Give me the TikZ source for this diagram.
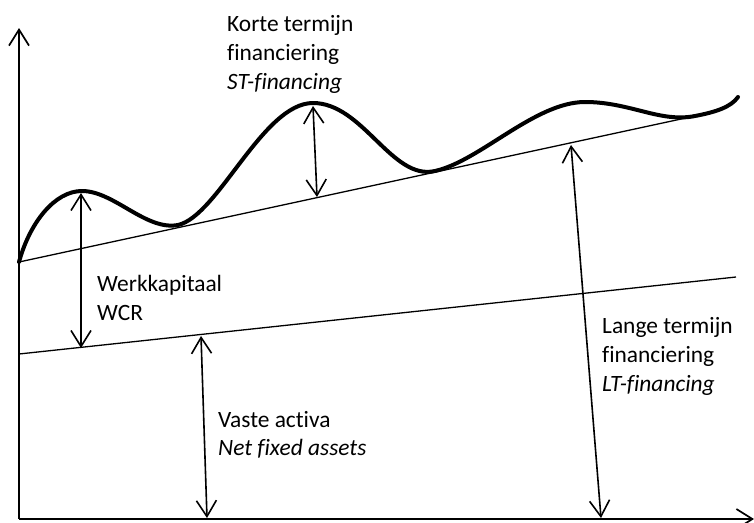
\documentclass[tikz,border=0pt]{standalone}
\usepackage{fontspec}
\setmainfont{Carlito}[Ligatures=NoCommon]
\usetikzlibrary{arrows.meta}
\tikzset{
  barb/.tip={Straight Barb[length=16pt,width=20pt]},
  axis/.style={line width=1.7pt},
  thin/.style={line width=1.3pt},
  thick curve/.style={line width=4pt, line cap=round, line join=round},
  dbl/.style={line width=1.6pt, barb-barb},
  lbl/.style={anchor=base west, inner sep=0pt, font=\fontsize{23.4}{29}\selectfont},
}
\begin{document}
\begin{tikzpicture}[x=1pt,y=-1pt]
\useasboundingbox (0,0) rectangle (754,522);
% axes
\coordinate (O) at (19,519);
\coordinate (Ytop) at (19,28);
\coordinate (Xend) at (754,519);
\draw[axis,-barb] (O) -- (Ytop);
\draw[axis,-barb] (O) -- (Xend);
% straight lines
\coordinate (U0) at (19,262);
\coordinate (U1) at (695,116);
\coordinate (L0) at (19,354);
\coordinate (L1) at (736,277);
\draw[thin] (U0) -- (U1);
\draw[thin] (L0) -- (L1);
% thick curve
\draw[thick curve] (U0) .. controls (30,222) and (55,191) .. (82,191)
  .. controls (114,191) and (146,231) .. (178,225)
  .. controls (218,216) and (263,103) .. (313,103)
  .. controls (363,103) and (392,181) .. (435,171)
  .. controls (480,161) and (535,102) .. (585,102)
  .. controls (630,102) and (660,123) .. (695,116)
  .. controls (716,112) and (731,107) .. (738,97);
% arrow end points
\coordinate (W1) at (81,193);
\coordinate (W2) at (81,348);
\coordinate (S1) at (313,106);
\coordinate (S2) at (317,197);
\coordinate (T1) at (571,145);
\coordinate (T2) at (601,518);
\coordinate (V1) at (201,336);
\coordinate (V2) at (207,518);
\draw[dbl] (W1) -- (W2);
\draw[dbl] (S1) -- (S2);
\draw[dbl] (T1) -- (T2);
\draw[dbl] (V1) -- (V2);
% labels
\node[lbl] (k1) at (227,31) {Korte termijn};
\node[lbl] (k2) at (227,60) {financiering};
\node[lbl] (k3) at (227,89) {\itshape ST-financing};
\node[lbl] (w1) at (97,291) {Werkkapitaal};
\node[lbl] (w2) at (97,320) {WCR};
\node[lbl] (l1) at (602,333) {Lange termijn};
\node[lbl] (l2) at (602,362) {financiering};
\node[lbl] (l3) at (602,391) {\itshape LT-financing};
\node[lbl] (v1) at (218,427) {Vaste activa};
\node[lbl] (v2) at (218,455) {\itshape Net fixed assets};
\end{tikzpicture}
\end{document}
